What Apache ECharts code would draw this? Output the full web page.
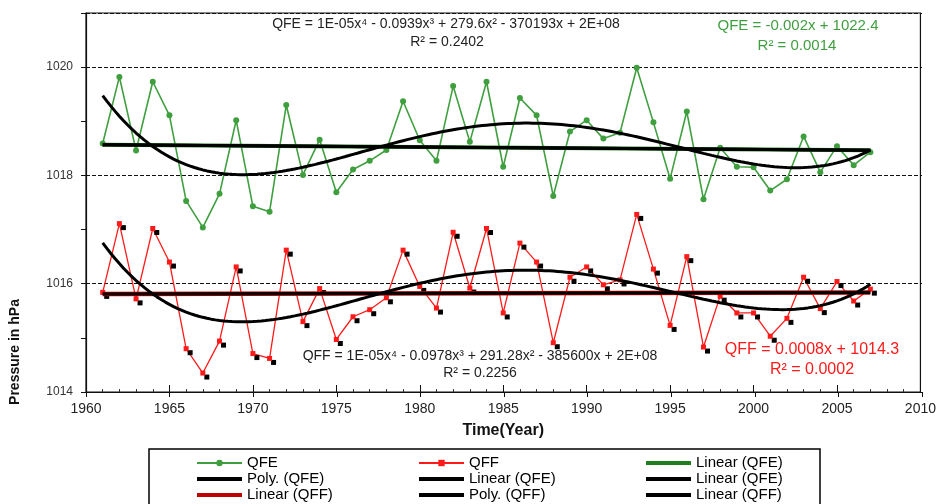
<!DOCTYPE html>
<html>
<head>
<meta charset="utf-8">
<script src="https://cdn.jsdelivr.net/npm/echarts@6/dist/echarts.min.js"></script>
<style>
  html, body { margin: 0; padding: 0; background: #fff; }
  #chart { width: 939px; height: 504px; }
</style>
</head>
<body>
<div id="chart"></div>
<script>
// Annual mean pressure (hPa)
const years = [1961, 1962, 1963, 1964, 1965, 1966, 1967, 1968, 1969, 1970,
  1971, 1972, 1973, 1974, 1975, 1976, 1977, 1978, 1979, 1980,
  1981, 1982, 1983, 1984, 1985, 1986, 1987, 1988, 1989, 1990,
  1991, 1992, 1993, 1994, 1995, 1996, 1997, 1998, 1999, 2000,
  2001, 2002, 2003, 2004, 2005, 2006, 2007];

const qfe = [1018.59, 1019.82, 1018.46, 1019.73, 1019.11, 1017.53, 1017.04, 1017.66, 1019.02, 1017.43,
  1017.33, 1019.30, 1018.01, 1018.66, 1017.69, 1018.11, 1018.27, 1018.47, 1019.37, 1018.65,
  1018.27, 1019.65, 1018.62, 1019.73, 1018.16, 1019.43, 1019.11, 1017.62, 1018.81, 1019.02,
  1018.68, 1018.79, 1019.99, 1018.98, 1017.94, 1019.18, 1017.56, 1018.51, 1018.16, 1018.15,
  1017.72, 1017.93, 1018.72, 1018.06, 1018.54, 1018.19, 1018.43];

const qff = [1015.84, 1017.11, 1015.72, 1017.02, 1016.40, 1014.80, 1014.35, 1014.94, 1016.31, 1014.71,
  1014.62, 1016.62, 1015.30, 1015.91, 1014.97, 1015.39, 1015.52, 1015.74, 1016.62, 1015.95,
  1015.55, 1016.95, 1015.92, 1017.02, 1015.46, 1016.75, 1016.40, 1014.91, 1016.12, 1016.31,
  1015.98, 1016.07, 1017.28, 1016.27, 1015.23, 1016.50, 1014.83, 1015.77, 1015.46, 1015.46,
  1015.03, 1015.36, 1016.12, 1015.54, 1016.04, 1015.68, 1015.90];

const xTicks = [1960, 1965, 1970, 1975, 1980, 1985, 1990, 1995, 2000, 2005, 2010];
const yTicks = [1014, 1016, 1018, 1020];

const eqQfePoly = 'QFE = 1E-05x\u2074 - 0.0939x\u00b3 + 279.6x\u00b2 - 370193x + 2E+08';
const r2QfePoly = 'R\u00b2 = 0.2402';
const eqQfeLin = 'QFE = -0.002x + 1022.4';
const r2QfeLin = 'R\u00b2 = 0.0014';
const eqQffPoly = 'QFF = 1E-05x\u2074 - 0.0978x\u00b3 + 291.28x\u00b2 - 385600x + 2E+08';
const r2QffPoly = 'R\u00b2 = 0.2256';
const eqQffLin = 'QFF = 0.0008x + 1014.3';
const r2QffLin = 'R\u00b2 = 0.0002';

const GREEN = '#3f9f3f';
const RED = '#ff1a1a';

// Least-squares polynomial fit on centred/scaled years (keeps the normal equations well conditioned)
function polyfit(xs, ys, deg) {
  const n = xs.length;
  const x0 = xs.reduce((a, b) => a + b, 0) / n;
  const s = 20;
  const m = deg + 1;
  const A = Array.from({ length: m }, () => new Array(m + 1).fill(0));
  for (let k = 0; k < n; k++) {
    const u = (xs[k] - x0) / s;
    const pw = [];
    for (let i = 0; i < 2 * m; i++) pw.push(Math.pow(u, i));
    for (let i = 0; i < m; i++) {
      for (let j = 0; j < m; j++) A[i][j] += pw[i + j];
      A[i][m] += ys[k] * pw[i];
    }
  }
  for (let c = 0; c < m; c++) {
    let p = c;
    for (let r = c + 1; r < m; r++) if (Math.abs(A[r][c]) > Math.abs(A[p][c])) p = r;
    [A[c], A[p]] = [A[p], A[c]];
    for (let r = 0; r < m; r++) {
      if (r === c) continue;
      const f = A[r][c] / A[c][c];
      for (let j = c; j <= m; j++) A[r][j] -= f * A[c][j];
    }
  }
  const coef = A.map((row, i) => row[m] / row[i]);
  return x => {
    const u = (x - x0) / s;
    let v = 0;
    for (let i = m - 1; i >= 0; i--) v = v * u + coef[i];
    return v;
  };
}

function trend(fn, step) {
  const out = [];
  const a = years[0], b = years[years.length - 1];
  for (let x = a; x <= b + 1e-9; x += step) out.push([x, fn(x)]);
  return out;
}

const pairs = arr => years.map((y, i) => [y, arr[i]]);

const linQfe = trend(polyfit(years, qfe, 1), 46);
const linQff = trend(polyfit(years, qff, 1), 46);
const polyQfe = trend(polyfit(years, qfe, 4), 0.25);
const polyQff = trend(polyfit(years, qff, 4), 0.25);

const chart = echarts.init(document.getElementById('chart'), null, { renderer: 'canvas' });

const GRID = { left: 86, right: 17, top: 13, bottom: 112 };
const baseFont = 'Liberation Sans, Arial, sans-serif';
const narrowFont = 'Liberation Sans Narrow, Arial Narrow, Liberation Sans, sans-serif';

// thick bar used as the legend key of the trend lines
const BAR_ICON = 'path://M0,0H46V4H0Z';

function trendLine(name, data, color, width, z) {
  return {
    name, type: 'line', data, xAxisIndex: 0, yAxisIndex: 0,
    symbol: 'none', showSymbol: false, smooth: false, silent: true, z,
    lineStyle: { color, width }, itemStyle: { color }
  };
}

function legendColumn(left, names) {
  return {
    orient: 'vertical', left, top: 455, height: 90, padding: 0,
    itemWidth: 45, itemHeight: 8, itemGap: 0,
    selectedMode: false,
    textStyle: { fontFamily: narrowFont, fontSize: 15, color: '#000', lineHeight: 16 },
    itemStyle: { shadowBlur: 0, shadowOffsetX: 0, shadowOffsetY: 0, shadowColor: 'rgba(0,0,0,0)' },
    formatter: n => n.split('#')[0],
    data: names.map(n => (n === 'QFE' || n === 'QFF') ? { name: n } : { name: n, icon: BAR_ICON })
  };
}

chart.setOption({
  animation: false,
  backgroundColor: '#fff',
  grid: [
    Object.assign({ show: true, borderColor: '#111', borderWidth: 1.2, backgroundColor: 'transparent' }, GRID),
    Object.assign({ show: false }, GRID)
  ],
  xAxis: [
    {
      type: 'value', gridIndex: 0, min: 1960, max: 2010, interval: 5,
      axisLine: { lineStyle: { color: '#111', width: 1.2 } },
      axisTick: { inside: true, length: 7, lineStyle: { color: '#111' } },
      minorTick: { show: true, splitNumber: 5, length: 3, lineStyle: { color: '#333' } },
      splitLine: { show: false },
      axisLabel: { color: '#222', fontFamily: narrowFont, fontSize: 14, margin: 10, formatter: v => String(v) },
      name: 'Time(Year)', nameLocation: 'middle', nameGap: 31,
      nameTextStyle: { fontFamily: narrowFont, fontWeight: 'bold', fontSize: 16, color: '#111' }
    },
    {
      type: 'value', gridIndex: 1, min: 1960, max: 2010, interval: 5,
      axisLine: { show: false },
      axisTick: { inside: false, length: 5, lineStyle: { color: '#111' } },
      axisLabel: { show: false }, splitLine: { show: false }
    }
  ],
  yAxis: [
    {
      type: 'value', gridIndex: 0, min: 1014, max: 1021, interval: 1,
      axisLine: { show: true, lineStyle: { color: '#111', width: 1.2 } },
      axisTick: { show: true, inside: false, length: 5, lineStyle: { color: '#111' } },
      splitLine: { show: false },
      axisLabel: {
        color: '#333', fontFamily: baseFont, fontSize: 12, margin: 13,
        formatter: v => (yTicks.indexOf(v) >= 0 ? String(v) : '')
      }
    },
    {
      type: 'value', gridIndex: 1, min: 1014, max: 1021, interval: 2,
      axisLine: { show: false }, axisTick: { show: false }, axisLabel: { show: false },
      splitLine: { show: true, lineStyle: { color: '#111', type: [4, 2], width: 1 } }
    }
  ],
  legend: [
    legendColumn(196, ['QFE', 'Poly. (QFE)', 'Linear (QFF)']),
    legendColumn(418, ['QFF', 'Linear (QFE)#2', 'Poly. (QFF)']),
    legendColumn(646, ['Linear (QFE)', 'Linear (QFE)#3', 'Linear (QFF)#2'])
  ],
  series: [
    {
      name: 'QFE', type: 'line', data: pairs(qfe), xAxisIndex: 0, yAxisIndex: 0,
      symbol: 'circle', symbolSize: 6, showSymbol: true, z: 2,
      lineStyle: { color: GREEN, width: 1.6 }, itemStyle: { color: GREEN }
    },
    {
      name: 'QFF', type: 'line', data: pairs(qff), xAxisIndex: 0, yAxisIndex: 0,
      symbol: 'rect', symbolSize: 5, showSymbol: true, z: 2,
      lineStyle: { color: RED, width: 1.3 },
      itemStyle: { color: RED, shadowColor: '#000', shadowBlur: 0, shadowOffsetX: 4, shadowOffsetY: 4 }
    },
    trendLine('Linear (QFE)', linQfe, '#1f7f1f', 4, 3),
    trendLine('Poly. (QFE)', polyQfe, '#000', 3, 4),
    trendLine('Linear (QFE)#2', linQfe, '#000', 3, 4),
    trendLine('Linear (QFE)#3', linQfe, '#000', 3, 4),
    trendLine('Linear (QFF)', linQff, '#c00000', 4.5, 3),
    trendLine('Poly. (QFF)', polyQff, '#000', 3, 4),
    trendLine('Linear (QFF)#2', linQff, '#000', 3, 4)
  ],
  graphic: [
    { type: 'text', x: 446, y: 24, style: { text: eqQfePoly, fill: '#222', font: '14px ' + baseFont, textAlign: 'center', textVerticalAlign: 'middle' }, z: 10 },
    { type: 'text', x: 447, y: 42, style: { text: r2QfePoly, fill: '#222', font: '14px ' + baseFont, textAlign: 'center', textVerticalAlign: 'middle' }, z: 10 },
    { type: 'text', x: 798, y: 26, style: { text: eqQfeLin, fill: GREEN, font: '15px ' + baseFont, textAlign: 'center', textVerticalAlign: 'middle' }, z: 10 },
    { type: 'text', x: 797, y: 46, style: { text: r2QfeLin, fill: GREEN, font: '15px ' + baseFont, textAlign: 'center', textVerticalAlign: 'middle' }, z: 10 },
    { type: 'text', x: 480, y: 356, style: { text: eqQffPoly, fill: '#222', font: '14px ' + baseFont, textAlign: 'center', textVerticalAlign: 'middle' }, z: 10 },
    { type: 'text', x: 480, y: 373, style: { text: r2QffPoly, fill: '#222', font: '14px ' + baseFont, textAlign: 'center', textVerticalAlign: 'middle' }, z: 10 },
    { type: 'text', x: 812, y: 350, style: { text: eqQffLin, fill: RED, font: '16px ' + baseFont, textAlign: 'center', textVerticalAlign: 'middle' }, z: 10 },
    { type: 'text', x: 812, y: 370, style: { text: r2QffLin, fill: RED, font: '16px ' + baseFont, textAlign: 'center', textVerticalAlign: 'middle' }, z: 10 },
    { type: 'text', x: 15, y: 352, rotation: Math.PI / 2, style: { text: 'Pressure in hPa', fill: '#111', font: 'bold 14px ' + baseFont, textAlign: 'center', textVerticalAlign: 'middle' }, z: 10 },
    { type: 'rect', shape: { x: 149, y: 449, width: 671, height: 70 }, style: { fill: 'none', stroke: '#000', lineWidth: 1.5 }, z: 1 }
  ]
});
</script>
</body>
</html>
